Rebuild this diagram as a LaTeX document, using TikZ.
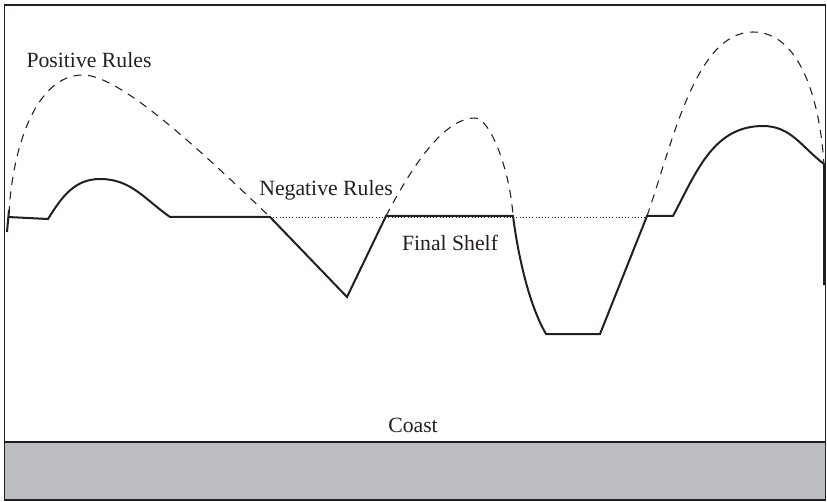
\documentclass[tikz,border=0pt]{standalone}
\usepackage{fontspec}
\setmainfont{Liberation Serif}
\definecolor{ink}{RGB}{35,31,32}
\definecolor{band}{RGB}{188,189,192}
\tikzset{
  shelf/.style={draw=ink, line width=1.5pt, line join=miter},
  posrule/.style={draw=ink, line width=0.8pt, dash pattern=on 6pt off 5pt},
  negline/.style={draw=ink, line width=0.7pt, dash pattern=on 0.8pt off 1.6pt},
  frame/.style={draw=ink, line width=0.9pt},
  lbl/.style={text=ink, font=\fontsize{16.3}{19}\selectfont, inner sep=0pt}
}
\begin{document}
\begin{tikzpicture}[x=0.75pt, y=-0.75pt]
\useasboundingbox (0,0) rectangle (827,502);
% coast band
\fill[band] (4.5,442) rectangle (825.5,500);
\draw[frame] (4.5,442) -- (825.5,442);
\draw[frame] (4.5,5) rectangle (825.5,500);

% dotted negative-rules line
\coordinate (d1) at (270,217);
\coordinate (d2) at (647,217);
\draw[negline] (d1) -- (d2);

% positive rules (dashed)
\coordinate (p1s) at (9,214);
\coordinate (p1t) at (83,75);
\coordinate (p1e) at (270,217);
\draw[posrule] (p1s) .. controls (12,150) and (35,75) .. (p1t)
  .. controls (120,75) and (200,150) .. (p1e);
\coordinate (p2s) at (386,216);
\coordinate (p2t) at (475,118);
\coordinate (p2e) at (513,216);
\draw[posrule] (p2s) .. controls (405,180) and (440,118) .. (p2t)
  .. controls (490,118) and (510,170) .. (p2e);
\coordinate (p3s) at (647,216);
\coordinate (p3t) at (753,32);
\coordinate (p3e) at (824,165);
\draw[posrule] (p3s) .. controls (672,145) and (695,32) .. (p3t)
  .. controls (800,32) and (820,100) .. (p3e);

% final shelf (solid)
\coordinate (t1) at (7,232);
\coordinate (t2) at (9,210);
\draw[shelf] (t1) -- (t2);
\coordinate (s0) at (8,217);
\coordinate (s1) at (48,219);
\coordinate (s2) at (100,179);
\coordinate (s3) at (170,217);
\coordinate (s4) at (270,217);
\coordinate (s5) at (347,297);
\coordinate (s6) at (386,216);
\coordinate (s7) at (513,216);
\coordinate (s8) at (546,334);
\coordinate (s9) at (600,334);
\coordinate (s10) at (647,216);
\coordinate (s11) at (673,216);
\coordinate (s12) at (763,126);
\coordinate (s13) at (824,164);
\coordinate (s14) at (824,285);
\draw[shelf] (s0) -- (s1) to[out=58,in=180] (s2) to[out=0,in=145] (s3)
  -- (s4) -- (s5) -- (s6) -- (s7)
  .. controls (520,270) and (533,312) .. (s8)
  -- (s9) -- (s10) -- (s11) to[out=62,in=180] (s12) to[out=0,in=143] (s13) -- (s14);

% labels
\node[lbl] (pos) at (89,60) {Positive Rules};
\node[lbl] (neg) at (326,190) {Negative Rules};
\node[lbl] (fin) at (450,243) {Final Shelf};
\node[lbl] (coast) at (413,425) {Coast};
\end{tikzpicture}
\end{document}
